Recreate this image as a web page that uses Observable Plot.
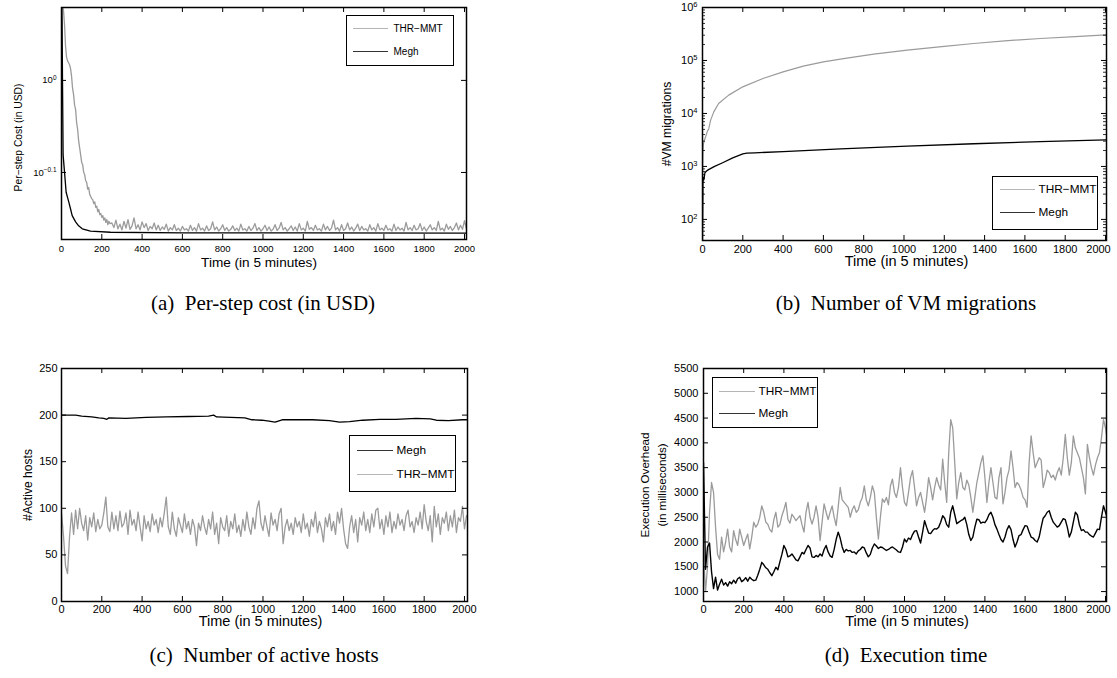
<!DOCTYPE html>
<html>
<head>
<meta charset="utf-8">
<script src="https://cdn.jsdelivr.net/npm/d3@7"></script>
<script src="https://cdn.jsdelivr.net/npm/@observablehq/plot@0.6"></script>
<style>
  body { margin: 0; background: #fff; }
  #fig { position: relative; width: 1117px; height: 678px; overflow: hidden; background: #fff;
         font-family: "Liberation Sans", Arial, Helvetica, sans-serif; color: #000; }
  #fig svg { position: absolute; overflow: visible; }
  .legend { position: absolute; border: 1.5px solid #000; background: #fff; box-sizing: border-box; }
  .legend .sample { position: absolute; height: 1px; }
  .legend .name { position: absolute; line-height: 1; white-space: nowrap; transform: translateY(-50%); }
  .caption { position: absolute; font-family: "Liberation Serif", "Times New Roman", serif; font-size: 21px;
             white-space: pre; transform: translate(-50%, -50%); }
</style>
</head>
<body>
<div id="fig"></div>
<script>
// ---------- data ----------
const xTicks = [0, 200, 400, 600, 800, 1000, 1200, 1400, 1600, 1800, 2000];
const thrName = "THR\u2212MMT";
const meghName = "Megh";

// (a) per-step cost in USD, [time, cost]
const costThrHead = [[0,1.26],[5,1.21],[10,1.19],[15,1.15],[20,1.09],[25,1.06],[30,1.05],[35,1.045],[40,1.04],[45,1.03],
  [50,1.01],[55,0.98],[60,0.965],[65,0.94],[70,0.93],[75,0.9],[80,0.885],[85,0.86],[90,0.845],[95,0.83],
  [100,0.815],[105,0.81],[110,0.795],[115,0.79],[120,0.778],[125,0.775],[130,0.762],[135,0.765],[140,0.752],[145,0.748],
  [150,0.744],[155,0.742],[160,0.735],[165,0.738],[170,0.728],[175,0.73],[180,0.72],[185,0.724],[190,0.715],[195,0.717],
  [200,0.71],[205,0.713],[210,0.705],[215,0.709],[220,0.701],[225,0.706],[230,0.697],[235,0.703],[240,0.699]];
// THR-MMT cost from t = 250 onward, every 10 steps
const costThrTail = [
  0.700,0.692,0.705,0.690,0.698,0.688,0.703,0.691,0.706,0.689,
  0.695,0.709,0.690,0.697,0.688,0.702,0.692,0.699,0.687,0.694,
  0.690,0.700,0.688,0.696,0.687,0.693,0.689,0.698,0.686,0.692,
  0.688,0.697,0.687,0.691,0.686,0.694,0.688,0.690,0.686,0.696,
  0.687,0.692,0.686,0.699,0.688,0.691,0.686,0.695,0.687,0.690,
  0.702,0.688,0.693,0.686,0.690,0.697,0.687,0.692,0.686,0.689,
  0.695,0.687,0.691,0.686,0.698,0.688,0.690,0.686,0.694,0.687,
  0.691,0.699,0.687,0.692,0.686,0.690,0.696,0.687,0.693,0.686,
  0.689,0.697,0.687,0.691,0.701,0.688,0.692,0.686,0.690,0.695,
  0.687,0.693,0.686,0.699,0.688,0.691,0.686,0.703,0.689,0.692,
  0.687,0.696,0.688,0.690,0.686,0.698,0.688,0.694,0.687,0.691,
  0.705,0.688,0.692,0.686,0.697,0.687,0.690,0.700,0.688,0.693,
  0.686,0.691,0.698,0.687,0.694,0.688,0.690,0.686,0.697,0.688,
  0.692,0.686,0.699,0.688,0.691,0.687,0.696,0.688,0.690,0.686,
  0.698,0.687,0.693,0.688,0.691,0.686,0.701,0.688,0.692,0.687,
  0.696,0.688,0.690,0.699,0.687,0.693,0.686,0.691,0.697,0.688,
  0.692,0.687,0.703,0.688,0.691,0.686,0.698,0.689,0.694,0.687,
  0.692,0.700,0.688,0.696,0.689,0.704,0.690];
const costMegh = [[0,1.3],[3,1.15],[5,1.0],[8,0.83],[15,0.795],[23,0.756],[36,0.738],[45,0.725],[53,0.713],
  [70,0.702],[85,0.695],[103,0.69],[144,0.686],[243,0.684],[600,0.683],[1200,0.683],[2010,0.6825]];
const costTickExponents = [0, -0.1];

// (b) cumulative number of VM migrations, [time, count]
const migThr = [[0,100],[1,1000],[3,2200],[5,2700],[10,3200],[15,3600],[25,4700],[31,5100],[40,7400],[56,10700],
  [80,15400],[130,22200],[200,31800],[300,45800],[400,61000],[500,78000],[600,94000],[700,108000],[850,132000],
  [1016,157000],[1200,185000],[1346,209000],[1500,235000],[1677,260000],[1850,283000],[2010,305000]];
const migMegh = [[0,40],[2,480],[4,620],[7,560],[12,760],[20,820],[30,870],[60,1000],[100,1175],[150,1450],
  [200,1720],[220,1780],[260,1810],[400,1900],[685,2150],[1016,2420],[1346,2680],[1677,2930],[2010,3180]];
const migTickExponents = [2, 3, 4, 5, 6];

// (c) number of active hosts
const hostsMegh = [[0,200],[70,200],[100,199],[150,198],[185,197],[210,196.5],[225,195.5],[235,197],[320,196.5],
  [420,197.5],[520,198],[630,198.5],[730,199],[755,200],[770,198],[910,197],[945,195],[995,194.5],[1030,193.5],
  [1060,192.5],[1095,195],[1160,195],[1245,195],[1330,194],[1380,192.5],[1430,193],[1495,194.5],[1580,195.5],
  [1660,195.5],[1760,196.5],[1830,196],[1860,194.5],[1920,194],[1990,195],[2010,195]];
// THR-MMT active hosts, every 10 steps from t = 0
const hostsThr = [
  95,70,38,30,70,95,72,98,78,100,
  84,76,92,66,90,80,95,75,88,78,
  82,95,112,80,75,96,78,92,76,97,
  80,84,95,72,98,82,88,76,96,80,
  65,92,78,86,75,94,82,88,74,90,
  80,95,112,80,72,96,78,70,90,82,
  74,94,78,86,72,88,80,60,84,76,
  92,80,72,88,78,96,72,84,62,90,
  80,76,92,70,86,78,94,74,82,70,
  88,76,96,80,72,90,78,100,108,84,
  76,92,80,70,95,82,88,76,94,100,
  62,80,88,76,84,72,90,80,86,74,
  94,78,84,70,88,80,96,74,86,78,
  64,90,80,94,76,86,72,96,84,100,
  78,62,57,80,92,74,88,64,90,82,
  96,76,88,74,94,80,98,100,78,88,
  72,92,80,96,74,86,78,94,82,88,
  76,92,98,80,86,74,90,82,96,78,
  104,86,76,92,64,102,80,94,72,90,
  84,96,76,92,80,98,74,90,86,102,
  78,92];
const hostsTicks = [0, 50, 100, 150, 200, 250];

// (d) execution overhead in milliseconds, every 10 steps from t = 0
const execThr = [
  1800,1000,1500,2600,3200,3000,2300,1750,1650,2100,
  1800,2000,2260,1900,1800,2230,2050,1930,2260,2100,
  1930,2050,2160,1860,2100,2400,2300,2360,2500,2730,
  2600,2400,2360,2250,2200,2450,2600,2300,2350,2530,
  2650,2800,2460,2380,2560,2500,2430,2480,2530,2350,
  2200,2600,2800,2500,2360,2500,2730,2500,2030,2400,
  2770,2600,2450,2600,2730,2500,2330,2700,3100,2850,
  2800,2750,2700,2500,2650,2730,2600,2650,2800,2900,
  3130,2850,2730,2900,3130,3000,2500,2060,2500,2870,
  2800,2900,2750,3130,3270,3000,2900,3100,3500,3100,
  2800,2730,3000,3300,3440,3100,2730,2900,3000,2800,
  2600,2900,3300,3100,2850,3100,3300,3150,3050,3670,
  3200,2800,3800,4470,4300,3600,2870,3200,3400,3100,
  3050,3250,3150,2900,2600,2900,3200,3400,3600,3740,
  3300,2800,3200,3500,3200,2900,2870,3300,3500,2770,
  3000,3300,3450,3840,3500,3100,3200,3150,3050,2900,
  2850,2700,3600,4140,3800,3500,3600,3700,3650,3100,
  3250,3450,3400,3300,3350,3250,3400,3500,3350,3700,
  4170,3700,3350,3600,4140,3900,3800,3700,3500,3300,
  2970,3970,3700,3500,3350,3550,3700,3800,4100,4470,
  4300,4040];
const execMegh = [
  3600,1450,1900,1980,1400,1060,1290,1030,1150,1250,
  1130,1180,1110,1200,1160,1230,1170,1260,1290,1200,
  1230,1280,1210,1290,1250,1220,1230,1330,1450,1590,
  1540,1480,1450,1380,1320,1400,1490,1440,1600,1750,
  1930,1850,1700,1720,1760,1700,1640,1620,1700,1790,
  1760,1850,1930,1880,1700,1690,1730,1700,1760,1720,
  1850,1930,1800,1720,1690,1850,2050,2200,2080,1900,
  1790,1850,1820,1830,1790,1800,1760,1820,1850,1900,
  1880,1780,1700,1750,1880,1960,1920,1870,1900,1890,
  1860,1830,1850,1880,1900,1870,1840,1800,1790,1900,
  2060,2000,2080,2050,2150,2220,2230,2100,1980,2200,
  2430,2300,2180,2170,2230,2270,2260,2300,2400,2530,
  2480,2350,2300,2600,2730,2550,2370,2400,2430,2450,
  2500,2350,2150,2030,2100,2300,2460,2450,2380,2400,
  2390,2450,2550,2600,2500,2350,2260,2150,2050,2000,
  2100,2250,2330,2250,2050,1900,2000,2130,2150,2250,
  2330,2320,2200,2100,2080,2030,2000,2100,2300,2480,
  2530,2600,2630,2500,2400,2350,2300,2330,2400,2470,
  2450,2300,2100,2200,2400,2600,2550,2350,2230,2250,
  2200,2200,2150,2120,2100,2180,2260,2250,2500,2730,
  2600,2460];
const execTicks = [1000, 1500, 2000, 2500, 3000, 3500, 4000, 4500, 5000, 5500];

// ---------- helpers ----------
const fig = document.getElementById("fig");
const FONT = '"Liberation Sans", Arial, Helvetica, sans-serif';
const GRAY = "#9b9b9b";
const every10 = (vals, start = 0) => vals.map((v, i) => [start + i * 10, v]);
const costThr = costThrHead.concat(every10(costThrTail, 250));
const pow10 = exps => exps.map(e => Math.pow(10, e));
// "10^k" label computed from a tick value on a log axis
const powerLabel = d => {
  const e = Math.round(Math.log10(d) * 10) / 10;
  return "10^" + String(e).replace("-", "\u2212");
};

// MATLAB-style boxed frame with inward ticks on all four sides
function boxMarks({xt, yt, yMinor = [], fw, fh, len = 5, minorLen = 3}) {
  return [
    Plot.ruleX(xt, {insetTop: fh - len, stroke: "#000"}),
    Plot.ruleX(xt, {insetBottom: fh - len, stroke: "#000"}),
    Plot.ruleY(yt, {insetRight: fw - len, stroke: "#000"}),
    Plot.ruleY(yt, {insetLeft: fw - len, stroke: "#000"}),
    Plot.ruleY(yMinor, {insetRight: fw - minorLen, stroke: "#000", strokeWidth: 0.8}),
    Plot.ruleY(yMinor, {insetLeft: fw - minorLen, stroke: "#000", strokeWidth: 0.8}),
    Plot.frame({stroke: "#000", strokeWidth: 1.5})
  ];
}

// turn "10^k" tick labels into a base with a raised exponent
function superscripts(svg) {
  d3.select(svg).selectAll("text").each(function () {
    const s = this.textContent;
    if (!s.includes("^")) return;
    const [base, exp] = s.split("^");
    this.textContent = base;
    d3.select(this).append("tspan").attr("dy", "-0.5em").attr("font-size", "68%").text(exp);
  });
}

function panel(spec) {
  const {left, top, width, height, frame, x, y, lines, xt, yt, yMinor, yTickFormat,
         tickFont, yPad, xPad, lastShift = 0, xTitle, yTitle} = spec;
  const mL = frame[0] - left, mR = left + width - frame[1];
  const mT = frame[2] - top, mB = top + height - frame[3];
  const fw = frame[1] - frame[0], fh = frame[3] - frame[2];
  const xFmt = d => String(d);
  const svg = Plot.plot({
    width, height, marginLeft: mL, marginRight: mR, marginTop: mT, marginBottom: mB,
    x: {...x, axis: null}, y: {...y, axis: null},
    style: {fontFamily: FONT, fontSize: tickFont + "px", color: "#000", background: "transparent", overflow: "visible"},
    marks: [
      ...lines.map(l => Plot.line(l.data, {x: d => d[0], y: d => d[1], stroke: l.color, strokeWidth: l.width, clip: true})),
      ...boxMarks({xt, yt, yMinor, fw, fh}),
      // x tick labels below the frame (the last one nudged inward)
      Plot.text(xt.slice(0, -1), {x: d => d, frameAnchor: "bottom", dy: xPad, lineAnchor: "top",
                                  text: xFmt, fontSize: tickFont}),
      Plot.text(xt.slice(-1), {x: d => d, frameAnchor: "bottom", dy: xPad, dx: lastShift, lineAnchor: "top",
                               text: xFmt, fontSize: tickFont}),
      // y tick labels left of the frame
      Plot.text(yt, {y: d => d, frameAnchor: "left", dx: -yPad, textAnchor: "end", lineAnchor: "middle",
                     text: yTickFormat, fontSize: tickFont}),
      Plot.text([xTitle.text], {frameAnchor: "bottom", text: d => d, dx: xTitle.dx, dy: xTitle.dy,
                                lineAnchor: "middle", fontSize: xTitle.size}),
      Plot.text([yTitle.text], {frameAnchor: "left", text: d => d, dx: yTitle.dx, dy: yTitle.dy, rotate: -90,
                                lineAnchor: "middle", textAnchor: "middle", fontSize: yTitle.size,
                                lineHeight: yTitle.lineHeight || 1})
    ]
  });
  svg.style.left = left + "px";
  svg.style.top = top + "px";
  superscripts(svg);
  fig.appendChild(svg);
}

function legend(box, rows, size) {
  const div = document.createElement("div");
  div.className = "legend";
  Object.assign(div.style, {left: box[0] + "px", top: box[1] + "px", width: box[2] + "px", height: box[3] + "px"});
  for (const r of rows) {
    const s = document.createElement("div");
    s.className = "sample";
    Object.assign(s.style, {left: (r.x1 - box[0] - 1.5) + "px", top: (r.y - box[1] - 2) + "px",
                            width: (r.x2 - r.x1) + "px", background: r.color});
    const t = document.createElement("div");
    t.className = "name";
    t.textContent = r.name;
    Object.assign(t.style, {left: (r.tx - box[0] - 1.5) + "px", top: (r.y - box[1] - 1.5) + "px", fontSize: size + "px"});
    div.append(s, t);
  }
  fig.appendChild(div);
}

function caption(text, cx, cy) {
  const c = document.createElement("div");
  c.className = "caption";
  c.textContent = text;
  Object.assign(c.style, {left: cx + "px", top: cy + "px"});
  fig.appendChild(c);
}

const xTitleText = "Time (in 5 minutes)";
const minorLog = [];
for (let e = 1; e <= 5; e++) for (let m = 2; m <= 9; m++) if (m * 10 ** e >= 40) minorLog.push(m * 10 ** e);

// (a) per-step cost
panel({
  left: 0, top: 0, width: 558, height: 280, frame: [61, 466, 7, 239],
  x: {domain: [0, 2010]}, y: {type: "log", domain: [0.6717, 1.2]},
  lines: [{data: costThr, color: GRAY, width: 1.3}, {data: costMegh, color: "#000", width: 1.3}],
  xt: xTicks, yt: pow10(costTickExponents), tickFont: 9.5, xPad: 6, yPad: 5,
  yTickFormat: powerLabel,
  xTitle: {text: xTitleText, dx: -5, dy: 23, size: 13.6},
  yTitle: {text: "Per\u2212step Cost (in USD)", dx: -42.5, dy: 14, size: 10.3}
});

// (b) number of VM migrations
panel({
  left: 558, top: 0, width: 559, height: 280, frame: [702, 1106, 7, 240],
  x: {domain: [0, 2005]}, y: {type: "log", domain: [40, 1e6]},
  lines: [{data: migThr, color: GRAY, width: 1.2}, {data: migMegh, color: "#000", width: 1.3}],
  xt: xTicks, yt: pow10(migTickExponents), yMinor: minorLog, tickFont: 11, xPad: 5, yPad: 5, lastShift: -7,
  yTickFormat: powerLabel,
  xTitle: {text: xTitleText, dx: 2, dy: 21, size: 14.5},
  yTitle: {text: "#VM migrations", dx: -35, dy: 0, size: 12.2}
});

// (c) number of active hosts
panel({
  left: 0, top: 330, width: 558, height: 310, frame: [61, 467, 368, 601],
  x: {domain: [0, 2015]}, y: {domain: [0, 250]},
  lines: [{data: every10(hostsThr), color: GRAY, width: 1.3}, {data: hostsMegh, color: "#000", width: 1.3}],
  xt: xTicks, yt: hostsTicks, tickFont: 11, xPad: 4, yPad: 4,
  yTickFormat: d => String(d),
  xTitle: {text: xTitleText, dx: -4, dy: 20, size: 14.5},
  yTitle: {text: "#Active hosts", dx: -33.5, dy: 0, size: 12.1}
});

// (d) execution overhead
panel({
  left: 558, top: 330, width: 559, height: 310, frame: [703, 1106, 368, 601],
  x: {domain: [0, 2005]}, y: {domain: [800, 5500]},
  lines: [{data: every10(execThr), color: GRAY, width: 1.3}, {data: every10(execMegh), color: "#000", width: 1.4}],
  xt: xTicks, yt: execTicks, tickFont: 11, xPad: 4, yPad: 5, lastShift: -7,
  yTickFormat: d => String(d),
  xTitle: {text: xTitleText, dx: 2, dy: 20, size: 14.5},
  yTitle: {text: "Execution Overhead\n(in milliseconds)", dx: -51.5, dy: 0, size: 11.6, lineHeight: 1.45}
});

// legends (page pixel positions)
legend([346, 15, 108, 51], [
  {name: thrName, color: "#b5b5b5", x1: 353, x2: 388, y: 29, tx: 394},
  {name: meghName, color: "#333", x1: 353, x2: 388, y: 52, tx: 394}], 10);
legend([992, 176, 106, 54], [
  {name: thrName, color: "#b5b5b5", x1: 1000, x2: 1035, y: 190, tx: 1039},
  {name: meghName, color: "#333", x1: 1000, x2: 1035, y: 213, tx: 1039}], 11.8);
legend([349, 435, 107, 57], [
  {name: meghName, color: "#333", x1: 357, x2: 393, y: 451, tx: 397},
  {name: thrName, color: "#b5b5b5", x1: 357, x2: 393, y: 475, tx: 397}], 11.8);
legend([712, 377, 106, 51], [
  {name: thrName, color: "#b5b5b5", x1: 719, x2: 755, y: 392, tx: 759},
  {name: meghName, color: "#333", x1: 719, x2: 755, y: 414, tx: 759}], 11.8);

// sub-figure captions
caption("(a)  Per-step cost (in USD)", 263, 303);
caption("(b)  Number of VM migrations", 906, 303);
caption("(c)  Number of active hosts", 264, 655);
caption("(d)  Execution time", 906, 655);
</script>
</body>
</html>
